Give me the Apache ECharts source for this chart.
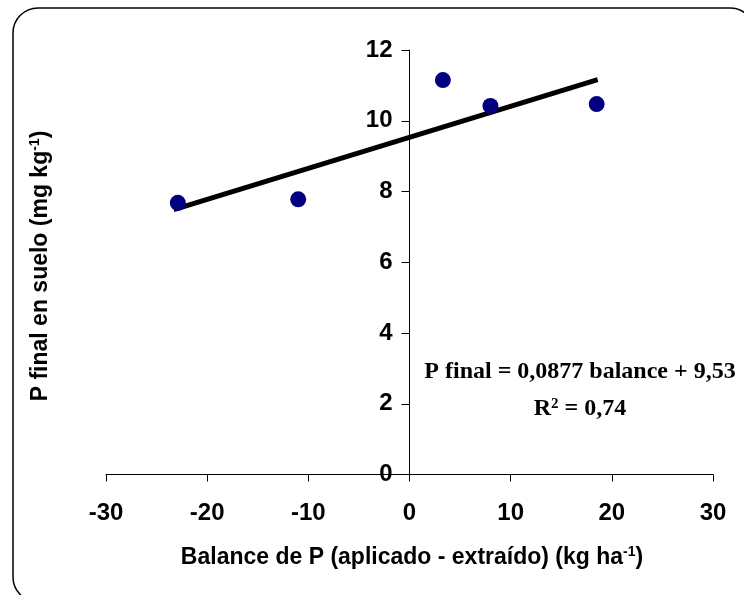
<!DOCTYPE html>
<html>
<head>
<meta charset="utf-8">
<script src="https://cdn.jsdelivr.net/npm/echarts@6/dist/echarts.min.js"></script>
<style>html,body{margin:0;padding:0;background:#fff;}#c{width:744px;height:595px;}</style>
</head>
<body>
<div id="c"></div>
<script>
var balance = [-22.9, -11.0, 3.3, 8.0, 18.5];
var pFinal = [7.68, 7.78, 11.15, 10.42, 10.47];
var xTicks = [-30, -20, -10, 0, 10, 20, 30];
var yTicks = [0, 2, 4, 6, 8, 10, 12];
var slope = 0.0877, intercept = 9.53;
var trendX = [-23.3, 18.6];

var chart = echarts.init(document.getElementById('c'), null, {renderer: 'canvas'});
var font = '"Liberation Sans", Arial, sans-serif';
var serif = '"Liberation Serif", "Times New Roman", serif';
chart.setOption({
  animation: false,
  backgroundColor: '#fff',
  grid: {left: 106, right: 31, top: 50, bottom: 120.5},
  xAxis: {
    type: 'value', min: -30, max: 30, interval: 10,
    splitLine: {show: false},
    axisLine: {onZero: true, lineStyle: {color: '#000', width: 1}},
    axisTick: {show: true, length: 7, lineStyle: {color: '#000'}},
    axisLabel: {color: '#000', fontFamily: font, fontWeight: 'bold', fontSize: 24, margin: 27}
  },
  yAxis: {
    type: 'value', min: 0, max: 12, interval: 2,
    offset: -303.5,
    splitLine: {show: false},
    axisLine: {show: true, onZero: false, lineStyle: {color: '#000', width: 1}},
    axisTick: {show: true, length: 8, lineStyle: {color: '#000'}},
    axisLabel: {color: '#000', fontFamily: font, fontWeight: 'bold', fontSize: 24, margin: 17}
  },
  series: [
    {
      type: 'line',
      data: trendX.map(function (x) { return [x, slope * x + intercept]; }),
      symbol: 'none',
      lineStyle: {color: '#000', width: 5},
      z: 2
    },
    {
      type: 'scatter',
      data: balance.map(function (x, i) { return [x, pFinal[i]]; }),
      symbol: 'circle', symbolSize: 16,
      itemStyle: {color: '#000080', opacity: 1},
      z: 3
    }
  ],
  graphic: [
    {type: 'rect', shape: {x: 13, y: 8, width: 742, height: 594, r: 25},
     style: {fill: 'none', stroke: '#000', lineWidth: 1.5}, silent: true, z: 0},
    {type: 'text', x: 40, y: 266, rotation: Math.PI / 2, scaleY: 1.08,
     style: {text: '{a|P final en suelo (mg kg}{s|-1}{a|)}', align: 'center', verticalAlign: 'middle',
       rich: {a: {font: 'bold 23px ' + font, fill: '#000'}, s: {font: 'bold 14px ' + font, fill: '#000', verticalAlign: 'top', padding: [0,0,10,0]}}}},
    {type: 'text', x: 412, y: 557, scaleY: 1.08,
     style: {text: '{a|Balance de P (aplicado - extraído) (kg ha}{s|-1}{a|)}', align: 'center', verticalAlign: 'middle',
       rich: {a: {font: 'bold 23px ' + font, fill: '#000'}, s: {font: 'bold 14px ' + font, fill: '#000', verticalAlign: 'top', padding: [0,0,10,0]}}}},
    {type: 'text', x: 580, y: 372,
     style: {text: 'P final = 0,0877 balance + 9,53', align: 'center', verticalAlign: 'middle',
       font: 'bold 24px ' + serif, fill: '#000'}},
    {type: 'text', x: 580, y: 409,
     style: {text: '{a|R}{s|2}{a| = 0,74}', align: 'center', verticalAlign: 'middle',
       rich: {a: {font: 'bold 24px ' + serif, fill: '#000'}, s: {font: 'bold 15px ' + serif, fill: '#000', verticalAlign: 'top', padding: [0,0,10,0]}}}}
  ]
});
</script>
</body>
</html>
